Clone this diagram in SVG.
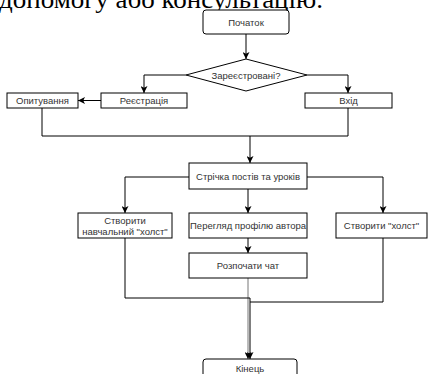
<svg xmlns="http://www.w3.org/2000/svg" width="428" height="374" viewBox="0 0 428 374">
<style>
.box{fill:#fff;stroke:#000;stroke-width:1}
.t{font-family:"Liberation Sans",Arial,sans-serif;font-size:9.5px;fill:#333;text-anchor:middle;dominant-baseline:central}
.c{fill:none;stroke:#000;stroke-width:1}
.g{fill:none;stroke:#777;stroke-width:1}
.top{font-family:"Liberation Serif","Times New Roman",serif;font-size:26px;fill:#000}
</style>
<defs>
<marker id="ah" viewBox="0 0 8 8" refX="8" refY="4" markerWidth="7" markerHeight="7" markerUnits="userSpaceOnUse" orient="auto">
<path d="M0,0 L8,4 L0,8 L2,4 Z" fill="#000"/>
</marker>
</defs>
<text class="top" x="-1" y="8" textLength="324" lengthAdjust="spacingAndGlyphs">допомогу або консультацію.</text>
<g id="connectors">
<path class="c" d="M246,34 V59" marker-end="url(#ah)"/>
<path class="c" d="M186,75 H144 V93" marker-end="url(#ah)"/>
<path class="c" d="M307,75 H348 V93" marker-end="url(#ah)"/>
<path class="c" d="M101,100.5 H78" marker-end="url(#ah)"/>
<path class="c" d="M42,108 V136 H348 V108"/>
<path class="c" d="M250,136 V163" marker-end="url(#ah)"/>
<path class="c" d="M189,177 H125 V213" marker-end="url(#ah)"/>
<path class="c" d="M307,177 H383 V213" marker-end="url(#ah)"/>
<path class="c" d="M248,189 V213" marker-end="url(#ah)"/>
<path class="c" d="M248,238 V253" marker-end="url(#ah)"/>
<path class="g" d="M248,278 V359" marker-end="url(#ah)"/>
<path class="c" d="M125,238 V298 H250 V359" marker-end="url(#ah)"/>
<path class="c" d="M383,238 V302 H250"/>
</g>
<g id="start"><rect class="box" x="203" y="10" width="86" height="24" rx="3"/><text class="t" x="246" y="22">Початок</text></g>
<g id="registered"><path class="box" d="M246,59 L307,75 L246,91 L186,75 Z"/><text class="t" x="246" y="75">Зареєстровані?</text></g>
<g id="survey"><rect class="box" x="7" y="93" width="71" height="15"/><text class="t" x="42.5" y="100.5">Опитування</text></g>
<g id="registration"><rect class="box" x="101" y="93" width="86" height="15"/><text class="t" x="144" y="100.5">Реєстрація</text></g>
<g id="login"><rect class="box" x="305" y="93" width="87" height="15"/><text class="t" x="348.5" y="100.5">Вхід</text></g>
<g id="feed"><rect class="box" x="189" y="163" width="118" height="26"/><text class="t" x="248" y="176">Стрічка постів та уроків</text></g>
<g id="edu-canvas"><rect class="box" x="78" y="213" width="94" height="25"/><text class="t" x="125" y="220.5">Створити</text><text class="t" x="125" y="231">навчальний "холст"</text></g>
<g id="profile"><rect class="box" x="189" y="213" width="118" height="25"/><text class="t" x="248" y="225.5">Перегляд профілю автора</text></g>
<g id="canvas"><rect class="box" x="336" y="213" width="91" height="25"/><text class="t" x="381.5" y="225.5">Створити "холст"</text></g>
<g id="chat"><rect class="box" x="189" y="253" width="118" height="25"/><text class="t" x="248" y="265.5">Розпочати чат</text></g>
<g id="end"><rect class="box" x="203" y="359" width="94" height="24" rx="3"/><text class="t" x="250" y="368">Кінець</text></g>
</svg>
